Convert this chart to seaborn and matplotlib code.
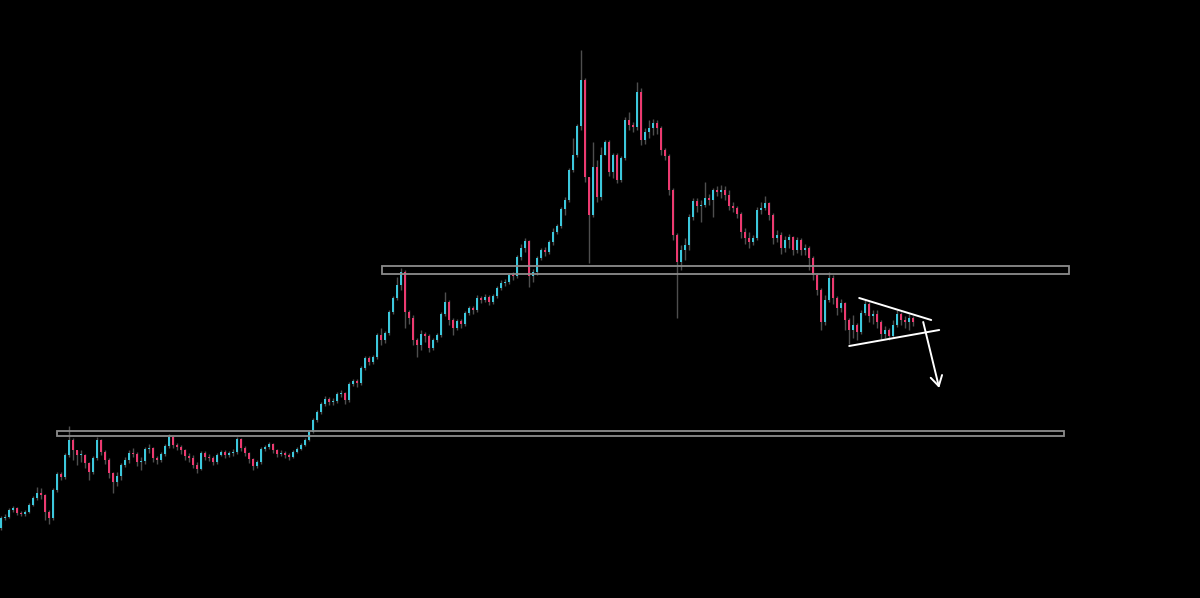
import numpy as np
import pandas as pd
import matplotlib
matplotlib.use("Agg")
import matplotlib.pyplot as plt
import seaborn as sns

# ---- data (price units, one candle per period) ----
first_open = 72
closes = [82,83,90,92,87,86,88,95,102,107,
          105,88,82,110,126,123,145,160,150,145,
          145,137,128,142,160,148,140,127,118,124,
          135,140,147,146,138,139,151,152,142,140,
          146,154,163,155,153,150,144,142,135,131,
          147,143,142,138,145,148,145,147,148,161,
          152,147,141,134,138,151,153,156,150,146,
          147,145,143,148,151,155,160,168,180,188,
          196,201,198,199,206,207,200,216,219,217,
          232,242,238,243,265,260,267,288,302,315,
          328,288,282,260,255,266,264,252,260,265,
          286,298,280,272,279,276,287,292,290,302,
          300,303,298,304,312,317,318,325,324,343,
          352,359,324,328,342,350,348,358,368,374,
          391,400,430,445,474,520,423,385,433,403,
          445,458,428,445,420,442,480,475,473,508,
          460,468,472,477,472,450,444,410,365,338,
          350,355,383,399,394,395,402,400,410,408,
          410,405,394,392,386,368,362,358,362,390,
          392,397,385,362,365,352,360,363,350,360,
          350,352,342,325,310,278,300,322,302,292,
          297,280,270,275,268,287,296,284,286,278,
          266,270,264,275,286,280,278,282,278]
highs = [84,86,92,94,93,89,90,97,104,113,
         112,106,90,112,128,128,147,174,162,150,
         150,146,138,144,163,161,150,142,128,128,
         137,143,150,152,148,143,153,156,153,144,
         148,156,166,164,157,155,151,147,145,138,
         149,149,146,144,147,150,150,149,151,163,
         162,154,148,142,140,153,155,158,157,151,
         150,149,147,150,153,157,162,170,182,190,
         198,204,203,202,208,210,208,218,221,221,
         234,244,244,245,267,272,269,290,304,323,
         332,330,290,285,262,270,268,266,262,267,
         288,308,300,282,281,281,289,294,294,305,
         304,306,305,306,314,320,321,327,328,345,
         356,362,360,331,344,352,353,360,372,376,
         393,403,432,462,476,550,522,415,458,440,
         453,460,460,447,447,444,483,488,478,518,
         512,472,480,481,480,474,452,446,412,367,
         355,362,386,402,402,400,418,406,412,414,
         415,414,410,398,394,388,372,368,365,393,
         398,404,398,387,370,368,364,366,364,363,
         362,356,354,344,327,312,305,328,325,304,
         301,298,282,285,277,290,300,298,290,290,
         280,274,272,280,290,288,284,286,284]
lows = [70,80,82,88,85,84,84,87,94,100,
        101,80,76,80,108,120,121,143,140,135,
        138,132,120,126,140,145,136,122,107,114,
        120,133,137,143,134,130,136,147,138,136,
        138,144,152,152,150,146,140,138,132,127,
        130,140,139,135,136,144,142,143,144,146,
        149,144,137,130,132,136,149,151,147,143,
        144,142,140,142,147,150,154,159,167,178,
        186,194,195,195,197,203,196,198,214,213,
        215,230,235,236,241,255,257,265,286,300,
        310,272,276,255,243,250,258,248,250,258,
        263,284,275,265,270,272,274,285,286,288,
        297,298,295,296,302,310,314,316,320,322,
        340,348,313,318,325,340,344,346,355,366,
        372,385,398,428,443,470,418,337,383,398,
        400,445,424,422,417,418,440,470,468,470,
        455,456,462,465,466,445,440,405,360,282,
        330,340,350,380,388,378,393,395,383,404,
        402,400,390,388,382,362,356,352,355,360,
        386,390,380,356,358,346,348,352,345,347,
        345,345,330,320,305,270,275,298,296,285,
        288,270,256,262,260,266,285,278,276,272,
        260,262,260,262,273,275,272,270,274]

# horizontal zones: (start candle, end candle, low price, high price)
zone_start = [95.2, 14.0]
zone_end = [267.0, 265.8]
zone_low = [326, 164]
zone_high = [334, 169]

# triangle (pennant) lines and breakdown arrow, in (candle, price)
tri_upper_x = [214.5, 232.5]
tri_upper_y = [302, 280]
tri_lower_x = [212.0, 234.5]
tri_lower_y = [254, 270]
arrow_x = [230.5, 234.5]
arrow_y = [278, 212]

# ---- build table ----
opens = [first_open] + closes[:-1]
df = pd.DataFrame({"open": opens, "close": closes, "high": highs, "low": lows})
df["idx"] = np.arange(len(df))
df["high"] = np.maximum(df["high"], np.maximum(df["open"], df["close"]))
df["low"] = np.minimum(df["low"], np.minimum(df["open"], df["close"]))
df["up"] = df["close"] >= df["open"]

UP = "#3cc8dc"
DOWN = "#ec3a70"
WICK = "#4e4e4e"

sns.set_theme(style="dark", rc={"axes.facecolor": "black", "figure.facecolor": "black"})

fig = plt.figure(figsize=(12, 5.98), dpi=100)
ax = fig.add_axes([0, 0, 1, 1])
ax.set_facecolor("black")

# wicks
ax.vlines(df["idx"], df["low"], df["high"], color=WICK, linewidth=1.0, zorder=2)

# bodies
bottom = np.minimum(df["open"], df["close"])
height = np.maximum(np.abs(df["close"] - df["open"]), 1.2)
colors = np.where(df["up"], UP, DOWN)
ax.bar(df["idx"], height, bottom=bottom, width=0.55, color=colors,
       linewidth=0, zorder=3)

# zones
for xs, xe, yl, yh in zip(zone_start, zone_end, zone_low, zone_high):
    ax.add_patch(plt.Rectangle((xs, yl), xe - xs, yh - yl, fill=False,
                               edgecolor="#8c8c8c", linewidth=1.3, zorder=4))

# pennant lines
tri = pd.DataFrame({"x": tri_upper_x + tri_lower_x,
                    "y": tri_upper_y + tri_lower_y,
                    "line": ["upper", "upper", "lower", "lower"]})
sns.lineplot(data=tri, x="x", y="y", units="line", estimator=None,
             color="white", linewidth=1.4, ax=ax, zorder=5)

# arrow
ax.annotate("", xy=(arrow_x[1], arrow_y[1]), xytext=(arrow_x[0], arrow_y[0]),
            arrowprops=dict(arrowstyle="->,head_length=0.6,head_width=0.35",
                            color="white", linewidth=1.4,
                            shrinkA=0, shrinkB=0), zorder=6)

ax.set_xlim(-0.3, 299.7)
ax.set_ylim(2, 600)
ax.set_axis_off()

fig.savefig("out.png", dpi=100, facecolor="black")
